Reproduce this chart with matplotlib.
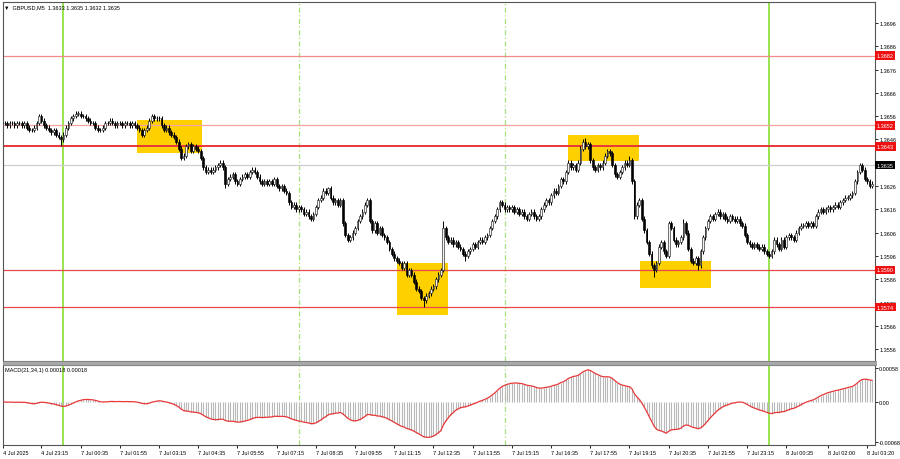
import numpy as np
import pandas as pd
import matplotlib
matplotlib.use("Agg")
import matplotlib.pyplot as plt
import matplotlib.transforms as mtransforms

# --- GBPUSD M5: closes, in pips above 1.3500 ---
friday_start = "2025-07-04 21:55"
friday_bars = 25
monday_start = "2025-07-07 00:00"

close_pips = [
    153, 153, 152, 153, 153, 152, 153, 153, 152, 153, 151, 150, 150, 151,
    153, 156, 154, 152, 151, 150, 149, 150, 148, 147, 146,
    148, 151, 153, 155, 156, 157, 157, 156, 156, 155, 154, 153, 153,
    151, 150, 150, 151, 153, 153, 154, 153, 152, 153, 153, 152, 153, 153, 152, 153, 152,
    151, 150, 148, 150, 151, 154, 156, 155, 155, 155, 152, 150, 151, 149, 148, 147,
    145, 142, 138, 139, 143, 144, 141, 143, 142, 141, 138, 134,
    132, 133, 132, 133, 134, 135, 136, 134, 127, 129, 130, 131, 128, 127, 129, 130,
    131, 130, 132, 133, 132, 130, 128, 127, 128, 127, 128, 127,
    129, 126, 125, 126, 124, 123, 119, 117, 118, 116,
    117, 116, 114, 115, 113, 112, 114, 117, 120, 121, 124, 123, 125, 121,
    119, 120, 118, 120, 110, 105, 103, 104, 106, 108, 111, 113, 115, 118, 120, 111,
    107, 110, 106, 108, 105, 104, 102, 99, 97, 95, 94, 93, 91, 93, 88, 90, 88,
    85, 82, 81, 78, 77, 79, 80, 82, 83, 86, 88, 90, 108,
    104, 102, 103, 101, 102, 100, 99, 97, 96, 98, 99, 101, 100, 102, 103, 102, 104, 105,
    108, 111, 113, 116, 119, 118, 116, 117,
    116, 117, 115, 116, 114, 115, 113, 112, 114, 115, 113, 112, 113,
    116, 118, 120, 119, 122, 124, 123, 126, 129, 128, 132,
    136, 134, 135, 133, 136, 142, 145, 143, 144, 137, 134, 133, 135, 134, 136,
    139, 141, 140, 135, 131, 130, 132, 134, 136, 135, 137, 128, 113,
    118, 120, 112, 107, 102, 97, 92, 90, 93, 100, 102, 98, 96, 110, 108,
    103, 101, 102, 104, 110, 106, 99, 94, 93, 95, 92, 98, 104,
    108, 111, 113, 112, 114, 115, 113, 114, 112, 111, 113, 112, 111, 112, 110, 109,
    105, 102, 101, 100, 101, 100, 99, 100, 98, 97, 96,
    98, 103, 101, 99, 103, 100, 104, 105, 104, 103, 106, 108, 109,
    109, 110, 109, 110, 109, 113, 115, 116, 115, 116, 117, 116, 117, 118, 117,
    119, 120, 121, 121, 122, 123, 128, 132, 135, 133, 129, 128, 126, 127,
]

# wicks that stick out clearly (bar number -> pips)
spike_highs = {15: 157, 61: 157, 133: 125.5, 149: 121, 180: 111, 238: 146.5,
               256: 139, 278: 112, 350: 136}
spike_lows = {24: 143, 73: 137, 91: 125, 126: 111, 172: 74, 189: 94, 266: 87,
              284: 90}

# support / resistance levels
levels = [1.3682, 1.3652, 1.3643, 1.3590, 1.3574]
level_colors = ["#f28b8b", "#f5a3a3", "#e8363a", "#e84a4a", "#e84a4a"]
level_widths = [0.9, 0.9, 1.4, 0.9, 0.9]
last_price = 1.3635

# yellow zones: start, end, top, bottom
zones = [
    ("2025-07-07 02:30", "2025-07-07 04:42", 1.36544, 1.36400),
    ("2025-07-07 11:20", "2025-07-07 13:05", 1.35930, 1.35707),
    ("2025-07-07 17:10", "2025-07-07 19:35", 1.36481, 1.36369),
    ("2025-07-07 19:37", "2025-07-07 22:01", 1.35940, 1.35823),
]

solid_vlines = ["2025-07-07 00:00", "2025-07-08 00:00"]
dashed_vlines = ["2025-07-07 08:00", "2025-07-07 15:00"]

time_labels = ["2025-07-04 23:15", "2025-07-07 00:35", "2025-07-07 01:55",
               "2025-07-07 03:15", "2025-07-07 04:35", "2025-07-07 05:55",
               "2025-07-07 07:15", "2025-07-07 08:35", "2025-07-07 09:55",
               "2025-07-07 11:15", "2025-07-07 12:35", "2025-07-07 13:55",
               "2025-07-07 15:15", "2025-07-07 16:35", "2025-07-07 17:55",
               "2025-07-07 19:15", "2025-07-07 20:35", "2025-07-07 21:55",
               "2025-07-07 23:15", "2025-07-08 00:35", "2025-07-08 02:00",
               "2025-07-08 03:20"]

# 1.3636 sits under the current-price box, so it is not shown
price_ticks = [1.3556, 1.3566, 1.3576, 1.3586, 1.3596, 1.3606, 1.3616,
               1.3626, 1.3646, 1.3656, 1.3666, 1.3676, 1.3686, 1.3696]
macd_ticks = [0.00058, 0.0, -0.00068]
macd_tick_text = ["0.00058", "0.00", "-0.00068"]

# --- prepare series ---
close = 1.35 + np.array(close_pips) / 10000
n = len(close)
opens = np.r_[close[0], close[:-1]]
wick = 1.0 / 10000
highs = np.maximum(opens, close) + wick
lows = np.minimum(opens, close) - wick
for i, v in spike_highs.items():
    highs[i] = 1.35 + v / 10000
for i, v in spike_lows.items():
    lows[i] = 1.35 + v / 10000

ema21 = pd.Series(close).ewm(span=21, adjust=False).mean()
ema34 = pd.Series(close).ewm(span=34, adjust=False).mean()
macd = (ema21 - ema34).values

t_mon = pd.Timestamp(monday_start)
t_fri = pd.Timestamp(friday_start)
step = pd.Timedelta("5min")


def pos(t):
    t = pd.Timestamp(t)
    if t >= t_mon:
        return friday_bars + (t - t_mon) / step
    return (t - t_fri) / step


x = np.arange(n)

# --- figure ---
plt.rcParams['font.family'] = ['Liberation Sans', 'DejaVu Sans']
fig = plt.figure(figsize=(9, 4.6), dpi=100)
ax = fig.add_axes([3 / 900, 98 / 460, 872 / 900, 359 / 460])
ax2 = fig.add_axes([3 / 900, 14 / 460, 872 / 900, 80 / 460])

xlim = (0.31, 356.2)
green = "#7ddc1f"

for a in (ax, ax2):
    a.set_xlim(*xlim)
    for s in a.spines.values():
        s.set_color("#555555")
        s.set_linewidth(0.8)
    for t in solid_vlines:
        a.axvline(pos(t), color=green, lw=1.1, zorder=1)
    for t in dashed_vlines:
        a.axvline(pos(t), color="#a6e07a", lw=0.9, ls=(0, (4, 2, 1, 2)), zorder=1)

ax.set_ylim(1.35509, 1.37050)

for t0, t1, top, bot in zones:
    ax.add_patch(plt.Rectangle((pos(t0), bot), pos(t1) - pos(t0), top - bot,
                               fc="#ffd000", ec="none", zorder=1.5))

for lv, c, w in zip(levels, level_colors, level_widths):
    ax.axhline(lv, color=c, lw=w, zorder=2)
ax.axhline(last_price, color="#cfcfcf", lw=0.9, zorder=1.8)

# candles
up = close >= opens
ax.vlines(x, lows, highs, color="black", lw=0.7, zorder=3)
body = np.abs(close - opens)
body = np.maximum(body, 0.2 / 10000)
ax.bar(x[up], body[up], bottom=np.minimum(opens, close)[up], width=0.7,
       color="#f4f4f4", edgecolor="#222222", linewidth=0.45, zorder=4)
ax.bar(x[~up], body[~up], bottom=np.minimum(opens, close)[~up], width=0.7,
       color="black", edgecolor="black", linewidth=0.45, zorder=4)

ax.yaxis.tick_right()
ax.set_yticks(price_ticks)
ax.set_yticklabels([f"{v:.4f}" for v in price_ticks])
ax.tick_params(axis="y", labelsize=4, length=2, width=0.6, pad=1, colors="black")
ax.set_xticks([])

tr = mtransforms.blended_transform_factory(ax.transAxes, ax.transData)
for lv in levels:
    ax.text(1.002, lv, f"{lv:.4f}", transform=tr, fontsize=4, color="white",
            va="center", ha="left", zorder=6, clip_on=False,
            bbox=dict(boxstyle="square,pad=0.3", fc="#ee1111", ec="none"))
ax.text(1.002, last_price, f"{last_price:.4f}", transform=tr, fontsize=4,
        color="white", va="center", ha="left", zorder=6, clip_on=False,
        bbox=dict(boxstyle="square,pad=0.3", fc="black", ec="none"))

# MACD panel
ax2.set_ylim(-0.000733, 0.000630)
ax2.vlines(x, 0, macd, color="#b9b9b9", lw=0.8, zorder=2)
ax2.plot(x, macd, color="#e8383a", lw=0.9, zorder=3)
ax2.yaxis.tick_right()
ax2.set_yticks(macd_ticks)
ax2.set_yticklabels(macd_tick_text)
ax2.tick_params(axis="y", labelsize=4, length=2, width=0.6, pad=1)

ticks = [pos(t) for t in time_labels]
labels = [f"{pd.Timestamp(t).day} {pd.Timestamp(t):%b %H:%M}" for t in time_labels]
ax2.set_xticks([xlim[0]] + ticks)
ax2.set_xticklabels(["4 Jul 2025"] + labels)
ax2.tick_params(axis="x", labelsize=4, length=2, width=0.6, pad=1.5)
for lab in ax2.get_xticklabels():
    lab.set_ha("left")

# header texts
fig.text(4 / 900, 1 - 8 / 460, "\u25bc  GBPUSD,M5  1.3633 1.3635 1.3632 1.3635",
         fontsize=4, va="center", ha="left")
fig.text(5 / 900, 1 - 371 / 460, "MACD(21,34,1) 0.00018 0.00018",
         fontsize=4, va="center", ha="left")

# panel separator
fig.patches.append(plt.Rectangle((3 / 900, 94 / 460), 873 / 900, 4 / 460,
                                 transform=fig.transFigure, fc="#a8a8a8",
                                 ec="#888888", lw=0.5))

fig.savefig("out.png", dpi=100, facecolor="white")
